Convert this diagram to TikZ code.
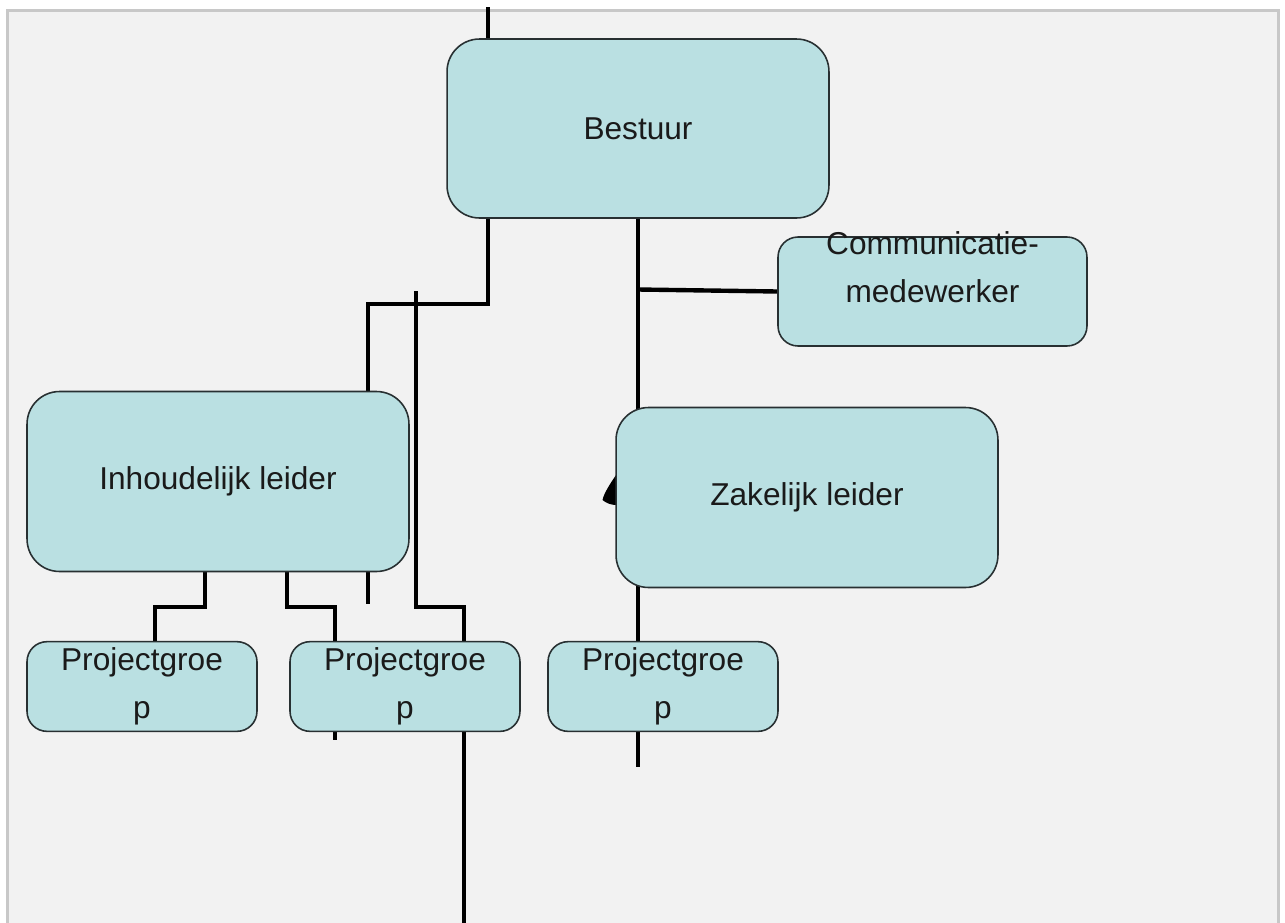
\documentclass[tikz,border=0pt]{standalone}
\usepackage{fontspec}
\setmainfont{Liberation Sans}
\usetikzlibrary{positioning}
\pgfdeclarelayer{bg}
\pgfdeclarelayer{wires}
\pgfsetlayers{bg,wires,main}
\definecolor{boxfill}{RGB}{186,224,226}
\definecolor{boxline}{RGB}{40,48,50}
\definecolor{sheet}{RGB}{242,242,242}
\definecolor{sheetline}{RGB}{200,200,200}
\definecolor{label}{RGB}{26,26,26}
\tikzstyle{wire}=[line width=2.5pt, black]
\tikzstyle{orgbox}=[draw=boxline, fill=boxfill, line width=0.9pt, rounded corners=0.65cm,
    text=label, font=\fontsize{18}{27.6}\selectfont, align=center]
\tikzstyle{bigbox}=[orgbox, minimum width=7.64cm, minimum height=3.6cm]
\tikzstyle{groupbox}=[orgbox, rounded corners=0.4cm, minimum width=4.6cm, minimum height=1.78cm]

\begin{document}
\begin{tikzpicture}[x=0.02cm, y=-0.02cm]
            \useasboundingbox (0,0) rectangle (1285,923);
            \begin{pgfonlayer}{bg}
                \draw[sheetline, fill=sheet, line width=1.2pt] (7.5,10.5) rectangle (1278.5,960);
            \end{pgfonlayer}

            % boxes
            \node[bigbox, minimum height=3.58cm] (bestuur) at (638,128.5) {Bestuur};
            \node[orgbox, rounded corners=0.4cm, minimum width=6.18cm, minimum height=2.18cm] (comm) at (932.5,291.5) {};
            \node[text=label, font=\fontsize{18}{27.2}\selectfont, align=center] (commtext) at (932.5,267) {Communicatie-\\medewerker};
            \node[bigbox] (inhoud) at (218,481.5) {Inhoudelijk leider};
            \node[bigbox] (zakelijk) at (807,497.5) {Zakelijk leider};
            \node[groupbox] (pgA) at (142,686.5) {Projectgroe\\p};
            \node[groupbox] (pgB) at (405,686.5) {Projectgroe\\p};
            \node[groupbox] (pgC) at (663,686.5) {Projectgroe\\p};

            % junctions and loose ends
            \coordinate (topend) at (488,7);
            \coordinate (bendA) at (488,304);
            \coordinate (endA) at (368,604);
            \coordinate (startB) at (416,291);
            \coordinate (bendB) at (416,607);
            \coordinate (endB) at (464,923);
            \coordinate (teeC) at (638,289.5);
            \coordinate (endC) at (638,767);
            \coordinate (outA) at (205,607);
            \coordinate (dropA) at (155,642);
            \coordinate (outB) at (287,607);
            \coordinate (endD) at (335,740);

            \begin{pgfonlayer}{wires}
                \draw[wire] (topend) -- (bendA) -| (endA);
                \draw[wire] (startB) -- (bendB) -| (endB);
                \draw[wire] (bestuur.south -| teeC) -- (endC);
                \draw[wire] (teeC) -- (comm.west);
                \draw[wire] (inhoud.south -| outA) -- (outA) -| (dropA);
                \draw[wire] (inhoud.south -| outB) -- (outB) -| (endD);
                \fill[black] (616,475) .. controls (610,484) and (604,493) .. (602.5,500)
                    .. controls (606,503) and (611,505) .. (616,505) -- cycle;
            \end{pgfonlayer}
        \end{tikzpicture}
\end{document}
